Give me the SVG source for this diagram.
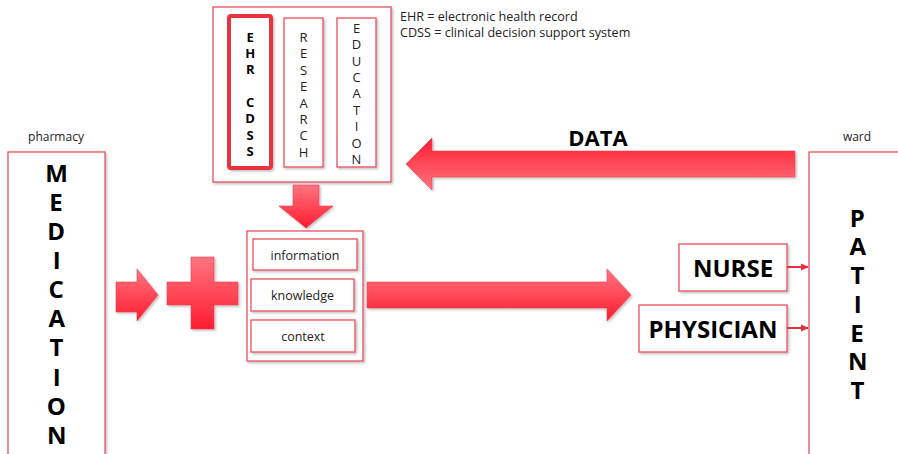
<svg xmlns="http://www.w3.org/2000/svg" width="898" height="454" viewBox="0 0 898 454">
  <defs>
    <linearGradient id="redDown" x1="0" y1="0" x2="0" y2="1">
      <stop offset="0" stop-color="#ff7580"/>
      <stop offset="1" stop-color="#ff1c30"/>
    </linearGradient>
    <linearGradient id="redUp" x1="0" y1="0" x2="0" y2="1">
      <stop offset="0" stop-color="#ff1c30"/>
      <stop offset="1" stop-color="#ff7580"/>
    </linearGradient>
    <filter id="shadow" x="-10%" y="-10%" width="130%" height="130%">
      <feDropShadow dx="1.5" dy="1.5" stdDeviation="1" flood-color="#000" flood-opacity="0.25"/>
    </filter>
    <marker id="head" markerWidth="8" markerHeight="8" refX="7" refY="4" orient="auto" markerUnits="userSpaceOnUse">
      <path d="M0,0.5 L8,4 L0,7.5 Z" fill="#e8303f"/>
    </marker>
    <style>
      .box { fill: #fff; stroke: #e8505c; stroke-width: 1.3; filter: url(#shadow); }
      .shape { stroke: #e84050; stroke-width: 0.6; filter: url(#shadow); }
      .lbl { font-family: "Open Sans", "Noto Sans", sans-serif; fill: #222; }
      .big { font-family: "Open Sans", "Noto Sans", sans-serif; font-weight: 700; fill: #000; }
      .col { writing-mode: vertical-rl; text-orientation: upright; }
      .link { stroke: #e8303f; stroke-width: 2; fill: none; marker-end: url(#head); }
    </style>
  </defs>

  <!-- legend -->
  <text class="lbl" x="400" y="21" font-size="12.6">EHR = electronic health record</text>
  <text class="lbl" x="400" y="37" font-size="12.6">CDSS = clinical decision support system</text>

  <!-- sources container -->
  <g id="sources">
    <rect class="box" x="213" y="7" width="178" height="175"/>
    <rect x="229" y="16" width="42" height="152" rx="2" fill="#fff" stroke="#e8303f" stroke-width="4" filter="url(#shadow)"/>
    <text class="big col" x="250" y="27.75" font-size="13" letter-spacing="-1.7">EHR CDSS</text>
    <rect class="box" x="284" y="18" width="39" height="149"/>
    <text class="lbl col" x="303.5" y="27.75" font-size="13" letter-spacing="-1.56" fill="#111">RESEARCH</text>
    <rect class="box" x="337" y="18" width="39" height="149"/>
    <text class="lbl col" x="356.5" y="18.75" font-size="13" letter-spacing="-1.6" fill="#111">EDUCATION</text>
  </g>

  <!-- medication -->
  <g id="medication">
    <text class="lbl" x="56" y="141" font-size="12" text-anchor="middle">pharmacy</text>
    <rect class="box" x="8" y="152" width="97" height="310"/>
    <text class="big col" x="56" y="155.5" font-size="24" letter-spacing="-3.85">MEDICATION</text>
  </g>

  <!-- knowledge container -->
  <g id="knowledge-base">
    <rect class="box" x="247" y="231" width="116" height="130"/>
    <rect class="box" x="253" y="239" width="104" height="31"/>
    <text class="lbl" x="305" y="259.5" font-size="12.5" text-anchor="middle">information</text>
    <rect class="box" x="251" y="279" width="103" height="32"/>
    <text class="lbl" x="302.5" y="300" font-size="12.5" text-anchor="middle">knowledge</text>
    <rect class="box" x="251" y="320" width="104" height="32"/>
    <text class="lbl" x="303" y="341" font-size="12.5" text-anchor="middle">context</text>
  </g>

  <!-- ward -->
  <g id="patient">
    <text class="lbl" x="857" y="141" font-size="12" text-anchor="middle">ward</text>
    <rect class="box" x="809" y="152" width="100" height="310"/>
    <text class="big col" x="857" y="200.5" font-size="24" letter-spacing="-4.25">PATIENT</text>
  </g>

  <g id="nurse">
    <rect class="box" x="679" y="244" width="108" height="47"/>
    <text class="big" x="733" y="276.5" font-size="24" text-anchor="middle">NURSE</text>
  </g>

  <g id="physician">
    <rect class="box" x="639" y="305" width="148" height="47"/>
    <text class="big" x="713" y="337.5" font-size="24" text-anchor="middle">PHYSICIAN</text>
  </g>

  <!-- flow shapes and connectors -->
  <g id="connectors">
    <path class="shape" fill="url(#redDown)" d="M116,282 H137 V269 L158,295 L137,321 V312 H116 Z"/>
    <path class="shape" fill="url(#redDown)" d="M191,257 H214 V282 H238 V305 H214 V329 H191 V305 H167 V282 H191 Z"/>
    <path class="shape" fill="url(#redDown)" d="M293,185 H319 V206 H333 L306,228 L279,206 H293 Z"/>
    <path class="shape" fill="url(#redDown)" d="M367,282 H607 V269 L631,295 L607,321 V308 H367 Z"/>
    <path class="shape" fill="url(#redUp)" d="M795,151 H432 V138 L406,164 L432,190 V177 H795 Z"/>
    <text class="big" x="598" y="146" font-size="22" text-anchor="middle">DATA</text>
    <line class="link" x1="787" y1="267" x2="808" y2="267"/>
    <line class="link" x1="787" y1="328" x2="808" y2="328"/>
  </g>
</svg>
